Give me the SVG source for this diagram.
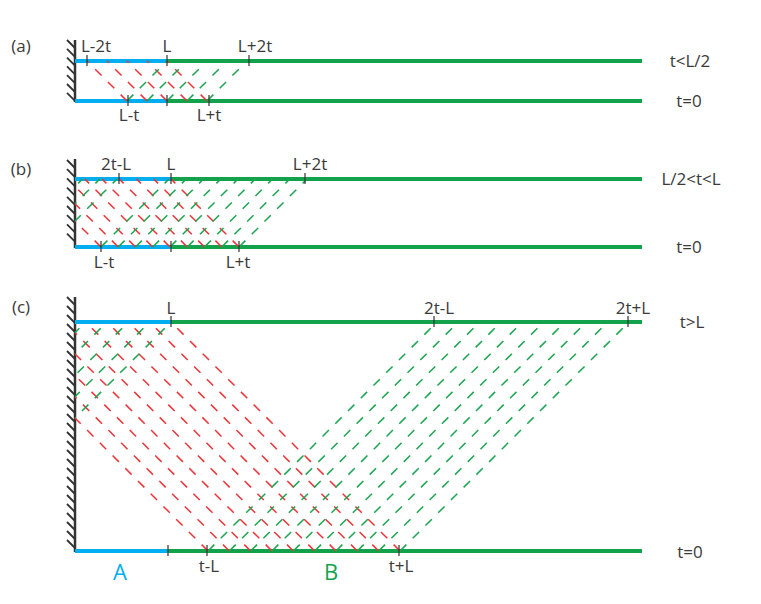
<svg xmlns="http://www.w3.org/2000/svg" width="761" height="604" viewBox="0 0 761 604">
<style>
text{font-family:"Open Sans","Liberation Sans",sans-serif;font-size:17px;fill:#3a3a3a}
.m{text-anchor:middle}
.b{stroke:#00aeef;stroke-width:4;fill:none}
.gr{stroke:#13a24c;stroke-width:4;fill:none}
.r{stroke:#ee3338;stroke-width:1.5;stroke-dasharray:9 9;fill:none}
.g{stroke:#1aa550;stroke-width:1.5;stroke-dasharray:9 9;fill:none}
.w{stroke:#333;stroke-width:2.5;fill:none}
.h{stroke:#333;stroke-width:1.8;fill:none}
.t{stroke:#333;stroke-width:1.2;fill:none}
</style>
<g id="panel-a">
<path class="w" d="M75 40V102"/>
<path class="h" d="M67 40l8 8M67 48.8l8 8M67 57.6l8 8M67 66.4l8 8M67 75.2l8 8M67 84l8 8M67 92.8l8 8"/>
<path class="b" d="M75 61H167M75 101H167"/>
<path class="gr" d="M167 61H642M167 101H642"/>
<g id="a-connectors">
<path class="r" d="M127 101L87 61M147 101L107 61M167 101L127 61M187 101L147 61M207 101L167 61"/>
<path class="g" d="M127 101L167 61M147 101L187 61M167 101L207 61M187 101L227 61M207 101L247 61"/>
</g>
<path class="t" d="M87 55V66M167 55V66M249 55V66M128 95V106M167 95V106M209 95V106"/>
<text x="21" y="52" class="m">(a)</text>
<text x="96" y="52" class="m">L-2t</text>
<text x="167" y="52" class="m">L</text>
<text x="255" y="52" class="m">L+2t</text>
<text x="129" y="121" class="m">L-t</text>
<text x="209" y="121" class="m">L+t</text>
<text x="690" y="67" class="m">t&lt;L/2</text>
<text x="689" y="107" class="m">t=0</text>
</g>
<g id="panel-b">
<path class="w" d="M75 159V248"/>
<path class="h" d="M67 160l8 8M67 169.2l8 8M67 178.4l8 8M67 187.6l8 8M67 196.8l8 8M67 206l8 8M67 215.2l8 8M67 224.4l8 8M67 233.6l8 8"/>
<path class="b" d="M75 179H171M75 247H171"/>
<path class="gr" d="M171 179H642M171 247H642"/>
<g id="b-connectors">
<path class="r" d="M152.75 247L84.75 179M170 247L102 179M187.25 247L119.25 179M204.5 247L136.5 179M221.75 247L153.75 179M239 247L171 179M101 247L75 221M118.25 247L75 203.75M135.5 247L75 186.5"/>
<path class="g" d="M75 221L117 179" stroke-dashoffset="36.77"/>
<path class="g" d="M75 203.75L99.75 179" stroke-dashoffset="61.16"/>
<path class="g" d="M75 186.5L82.5 179" stroke-dashoffset="85.56"/>
<path class="g" d="M101 247L169 179M118.25 247L186.25 179M135.5 247L203.5 179M152.75 247L220.75 179M170 247L238 179M187.25 247L255.25 179M204.5 247L272.5 179M221.75 247L289.75 179M239 247L307 179"/>
</g>
<path class="t" d="M119 173V184M171 173V184M305 173V184M101 241V252M171 241V252M239 241V252"/>
<text x="21" y="175" class="m">(b)</text>
<text x="116" y="170" class="m">2t-L</text>
<text x="171" y="170" class="m">L</text>
<text x="310" y="170" class="m">L+2t</text>
<text x="104" y="268" class="m">L-t</text>
<text x="238" y="268" class="m">L+t</text>
<text x="691" y="185" class="m">L/2&lt;t&lt;L</text>
<text x="689" y="253" class="m">t=0</text>
</g>
<g id="panel-c">
<path class="w" d="M75 297V552"/>
<path class="h" d="M67 297l8 8M67 306l8 8M67 315l8 8M67 324l8 8M67 333l8 8M67 342l8 8M67 351l8 8M67 360l8 8M67 369l8 8M67 378l8 8M67 387l8 8M67 396l8 8M67 405l8 8M67 414l8 8M67 423l8 8M67 432l8 8M67 441l8 8M67 450l8 8M67 459l8 8M67 468l8 8M67 477l8 8M67 486l8 8M67 495l8 8M67 504l8 8M67 513l8 8M67 522l8 8M67 531l8 8M67 540l8 8"/>
<path class="b" d="M75 322H171M75 551H168"/>
<path class="gr" d="M171 322H642M168 551H642"/>
<g id="c-connectors">
<path class="r" d="M208 551L75 418M229.33 551L75 396.67M250.67 551L75 375.33M272 551L75 354M293.33 551L75 332.67"/>
<path class="r" d="M314.67 551L85.67 322M336 551L107 322M357.33 551L128.33 322M378.67 551L149.67 322M400 551L171 322"/>
<path class="g" d="M75 418L171 322" stroke-dashoffset="188.09"/>
<path class="g" d="M75 396.67L149.67 322" stroke-dashoffset="218.26"/>
<path class="g" d="M75 375.33L128.33 322" stroke-dashoffset="248.43"/>
<path class="g" d="M75 354L107 322" stroke-dashoffset="278.6"/>
<path class="g" d="M75 332.67L85.67 322" stroke-dashoffset="308.77"/>
<path class="g" d="M208 551L437 322M229.33 551L458.33 322M250.67 551L479.67 322M272 551L501 322M293.33 551L522.33 322M314.67 551L543.67 322M336 551L565 322M357.33 551L586.33 322M378.67 551L607.67 322M400 551L629 322"/>
</g>
<path class="t" d="M171 316V327M434 316V327M628 316V327M168 545V556M207 545V556M399 545V556"/>
<text x="21" y="313" class="m">(c)</text>
<text x="171" y="314" class="m">L</text>
<text x="439" y="314" class="m">2t-L</text>
<text x="633" y="314" class="m">2t+L</text>
<text x="692" y="328" class="m">t&gt;L</text>
<text x="690" y="558" class="m">t=0</text>
<text x="209" y="572" class="m">t-L</text>
<text x="401" y="572" class="m">t+L</text>
<text x="120" y="580" class="m" style="font-size:22px;fill:#00aeef">A</text>
<text x="331" y="580" class="m" style="font-size:22px;fill:#13a24c">B</text>
</g>
</svg>
